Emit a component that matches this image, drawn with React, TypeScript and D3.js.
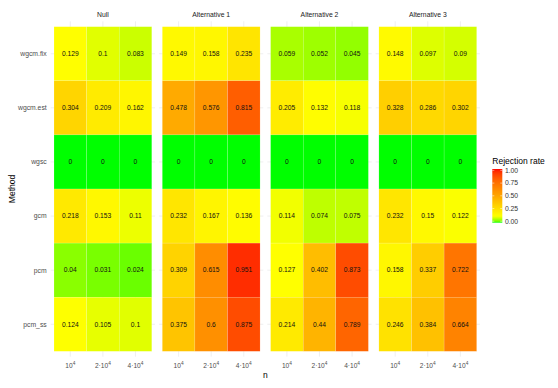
import React from "react";
import * as d3 from "d3";

const methods = ["wgcm.fix", "wgcm.est", "wgsc", "gcm", "pcm", "pcm_ss"];
const settings = ["Null", "Alternative 1", "Alternative 2", "Alternative 3"];
const nLevels = ["1e4", "2e4", "4e4"];
const nTickBase = ["10", "2\u00b710", "4\u00b710"];
const nTickExp = ["4", "4", "4"];

// rows = methods, columns = n
const nullVals = [
  [0.129, 0.1, 0.083],
  [0.304, 0.209, 0.162],
  [0, 0, 0],
  [0.218, 0.153, 0.11],
  [0.04, 0.031, 0.024],
  [0.124, 0.105, 0.1],
];
const alt1Vals = [
  [0.149, 0.158, 0.235],
  [0.478, 0.576, 0.815],
  [0, 0, 0],
  [0.232, 0.167, 0.136],
  [0.309, 0.615, 0.951],
  [0.375, 0.6, 0.875],
];
const alt2Vals = [
  [0.059, 0.052, 0.045],
  [0.205, 0.132, 0.118],
  [0, 0, 0],
  [0.114, 0.074, 0.075],
  [0.127, 0.402, 0.873],
  [0.214, 0.44, 0.789],
];
const alt3Vals = [
  [0.148, 0.097, 0.09],
  [0.328, 0.286, 0.302],
  [0, 0, 0],
  [0.232, 0.15, 0.122],
  [0.158, 0.337, 0.722],
  [0.246, 0.384, 0.664],
];
const legendTicks = [0, 0.25, 0.5, 0.75, 1];

const allVals = [nullVals, alt1Vals, alt2Vals, alt3Vals];

const FONT = "'Liberation Sans', Arial, Helvetica, sans-serif";

export default function App() {
  const W = 558;
  const H = 388;
  const panelX0 = 50.74;
  const panelStep = 108.3;
  const panelW = 104.3;
  const panelTop = 21.3;
  const panelBottom = 356.7;
  const expX = 3.26;
  const expY = 5.4;

  const color = d3
    .scaleLinear<string>()
    .domain([0, 0.125, 0.5, 1])
    .range(["#00FF00", "#FFFF00", "#FFA500", "#FF0000"])
    .interpolate(d3.interpolateLab)
    .clamp(true);

  const y = d3
    .scaleBand<string>()
    .domain(methods)
    .range([panelTop + expY, panelBottom - expY])
    .padding(0);

  const panels = settings.map((s, i) => {
    const x0 = panelX0 + i * panelStep;
    const x = d3
      .scaleBand<string>()
      .domain(nLevels)
      .range([x0 + expX, x0 + panelW - expX])
      .padding(0);
    return { s, i, x0, x, vals: allVals[i] };
  });

  const legX = 492.3;
  const legW = 10;
  const legTop = 169;
  const legBottom = 222.7;
  const legScale = d3.scaleLinear().domain([0, 1]).range([221.2, 170.4]);
  const gradStops = d3.range(0, 1.0001, 0.02);

  const gridColor = "#EBEBEB";

  return (
    <svg
      width={W}
      height={H}
      style={{ position: "absolute", left: 0, top: 0, background: "#fff" }}
      fontFamily={FONT}
    >
      <defs>
        <linearGradient id="legGrad" x1="0" y1="1" x2="0" y2="0">
          {gradStops.map((t) => (
            <stop key={t} offset={`${t * 100}%`} stopColor={color(t)} />
          ))}
        </linearGradient>
      </defs>
      <rect x={0} y={0} width={W} height={H} fill="#fff" />

      {panels.map((p) => (
        <g key={p.s}>
          {/* grid lines */}
          {nLevels.map((n) => {
            const cx = (p.x(n) as number) + p.x.bandwidth() / 2;
            return (
              <line
                key={"gx" + n}
                x1={cx}
                x2={cx}
                y1={panelTop}
                y2={panelBottom}
                stroke={gridColor}
                strokeWidth={0.8}
              />
            );
          })}
          {methods.map((m) => {
            const cy = (y(m) as number) + y.bandwidth() / 2;
            return (
              <line
                key={"gy" + m}
                x1={p.x0}
                x2={p.x0 + panelW}
                y1={cy}
                y2={cy}
                stroke={gridColor}
                strokeWidth={0.8}
              />
            );
          })}
          {/* tiles */}
          {methods.map((m, r) =>
            nLevels.map((n, c) => (
              <rect
                key={m + n}
                x={p.x(n) as number}
                y={y(m) as number}
                width={p.x.bandwidth()}
                height={y.bandwidth()}
                fill={color(p.vals[r][c])}
                stroke="#fff"
                strokeOpacity={0.35}
                strokeWidth={0.4}
              />
            ))
          )}
          {/* cell labels */}
          {methods.map((m, r) =>
            nLevels.map((n, c) => (
              <text
                key={"t" + m + n}
                x={(p.x(n) as number) + p.x.bandwidth() / 2}
                y={(y(m) as number) + y.bandwidth() / 2}
                dy="0.35em"
                textAnchor="middle"
                fontSize={6.7}
                fill="#111"
              >
                {String(p.vals[r][c])}
              </text>
            ))
          )}
          {/* strip */}
          <text
            x={p.x0 + panelW / 2}
            y={14.7}
            dy="0.35em"
            textAnchor="middle"
            fontSize={6.8}
            fill="#1A1A1A"
          >
            {p.s}
          </text>
          {/* x tick labels */}
          {nLevels.map((n, c) => (
            <text
              key={"xl" + n}
              x={(p.x(n) as number) + p.x.bandwidth() / 2}
              y={367.8}
              textAnchor="middle"
              fontSize={6.6}
              fill="#4D4D4D"
            >
              {nTickBase[c]}
              <tspan fontSize={4.8} dy={-3}>
                {nTickExp[c]}
              </tspan>
            </text>
          ))}
        </g>
      ))}

      {/* y tick labels */}
      {methods.map((m) => (
        <text
          key={"yl" + m}
          x={46.7}
          y={(y(m) as number) + y.bandwidth() / 2}
          dy="0.35em"
          textAnchor="end"
          fontSize={6.8}
          fill="#4D4D4D"
        >
          {m}
        </text>
      ))}

      {/* axis titles */}
      <text
        x={(panelX0 + panelX0 + 3 * panelStep + panelW) / 2}
        y={377.8}
        textAnchor="middle"
        fontSize={8.5}
        fill="#000"
      >
        n
      </text>
      <text
        transform={`translate(15.2, ${(panelTop + panelBottom) / 2}) rotate(-90)`}
        textAnchor="middle"
        fontSize={8.5}
        fill="#000"
      >
        Method
      </text>

      {/* legend */}
      <text x={legX} y={164} fontSize={8.5} fill="#000">
        Rejection rate
      </text>
      <rect
        x={legX}
        y={legTop}
        width={legW}
        height={legBottom - legTop}
        fill="url(#legGrad)"
      />
      {legendTicks.map((t) => (
        <g key={"lt" + t}>
          <line
            x1={legX}
            x2={legX + 2}
            y1={legScale(t)}
            y2={legScale(t)}
            stroke="#fff"
            strokeWidth={0.5}
          />
          <line
            x1={legX + legW - 2}
            x2={legX + legW}
            y1={legScale(t)}
            y2={legScale(t)}
            stroke="#fff"
            strokeWidth={0.5}
          />
          <text
            x={legX + legW + 2.6}
            y={legScale(t)}
            dy="0.35em"
            fontSize={6.8}
            fill="#333"
          >
            {d3.format(".2f")(t)}
          </text>
        </g>
      ))}
    </svg>
  );
}
